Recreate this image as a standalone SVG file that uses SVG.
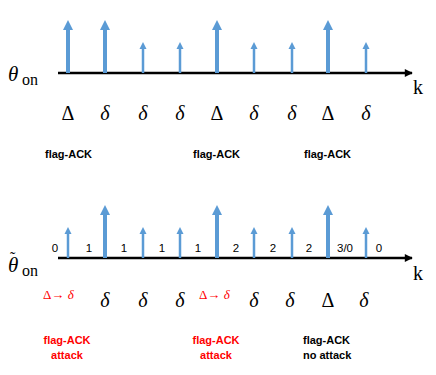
<svg xmlns="http://www.w3.org/2000/svg" width="436" height="375" viewBox="0 0 436 375">
<style>
.ax{stroke:#000;stroke-width:2.5;fill:none}
.big{stroke:#5B9BD5;stroke-width:4}
.sm{stroke:#5B9BD5;stroke-width:2.5}
.hd{fill:#5B9BD5}
.gr{font-family:"Liberation Serif",serif;font-size:20px;fill:#000;text-anchor:middle}
.gi{font-style:italic}
.lab{font-family:"Liberation Sans",Arial,sans-serif;font-weight:bold;font-size:11px;fill:#000}
.num{font-family:"Liberation Sans",Arial,sans-serif;font-size:11.5px;fill:#000;text-anchor:middle}
.ser{font-family:"Liberation Serif",serif;fill:#000}
.red{fill:#FF0000}
</style>
<defs>
<marker id="axh" viewBox="0 0 10 10" refX="9" refY="5" markerWidth="4" markerHeight="3.2" orient="auto" markerUnits="strokeWidth"><path d="M0,0 L10,5 L0,10 z" fill="#000"/></marker>
<path id="tallA" d="M-5,10 L0,0 L5,10 z"/>
<path id="shortA" d="M-3.5,7 L0,0 L3.5,7 z"/>
</defs>
<g id="connectors">
<line class="ax" x1="58" y1="73" x2="412" y2="73" marker-end="url(#axh)"/>
<line class="ax" x1="58" y1="258" x2="412" y2="258" marker-end="url(#axh)"/>
</g>
<g id="top-arrows">
<line class="big" x1="68" y1="73" x2="68" y2="29"/><use href="#tallA" class="hd" x="68" y="20"/>
<line class="big" x1="105" y1="73" x2="105" y2="29"/><use href="#tallA" class="hd" x="105" y="20"/>
<line class="sm" x1="143" y1="73" x2="143" y2="48"/><use href="#shortA" class="hd" x="143" y="42"/>
<line class="sm" x1="180" y1="73" x2="180" y2="48"/><use href="#shortA" class="hd" x="180" y="42"/>
<line class="big" x1="217" y1="73" x2="217" y2="29"/><use href="#tallA" class="hd" x="217" y="20"/>
<line class="sm" x1="254" y1="73" x2="254" y2="48"/><use href="#shortA" class="hd" x="254" y="42"/>
<line class="sm" x1="292" y1="73" x2="292" y2="48"/><use href="#shortA" class="hd" x="292" y="42"/>
<line class="big" x1="328" y1="73" x2="328" y2="29"/><use href="#tallA" class="hd" x="328" y="20"/>
<line class="sm" x1="366" y1="73" x2="366" y2="48"/><use href="#shortA" class="hd" x="366" y="42"/>
</g>
<g id="top-axis-labels">
<text class="ser" x="8" y="81" font-size="21" font-style="italic">θ</text>
<text class="ser" x="22" y="85" font-size="16">on</text>
<text class="ser" x="413" y="94" font-size="20">k</text>
</g>
<g id="top-values">
<text class="gr" x="68" y="120">Δ</text>
<text class="gr gi" x="105" y="120">δ</text>
<text class="gr gi" x="143" y="120">δ</text>
<text class="gr gi" x="180" y="120">δ</text>
<text class="gr" x="217" y="120">Δ</text>
<text class="gr gi" x="254" y="120">δ</text>
<text class="gr gi" x="292" y="120">δ</text>
<text class="gr" x="328" y="120">Δ</text>
<text class="gr gi" x="366" y="120">δ</text>
</g>
<g id="top-flags">
<text class="lab" x="45" y="158">flag-ACK</text>
<text class="lab" x="193" y="158">flag-ACK</text>
<text class="lab" x="304" y="158">flag-ACK</text>
</g>
<g id="bottom-arrows">
<line class="sm" x1="68" y1="258" x2="68" y2="233"/><use href="#shortA" class="hd" x="68" y="227"/>
<line class="big" x1="105" y1="258" x2="105" y2="214"/><use href="#tallA" class="hd" x="105" y="205"/>
<line class="sm" x1="143" y1="258" x2="143" y2="233"/><use href="#shortA" class="hd" x="143" y="227"/>
<line class="sm" x1="180" y1="258" x2="180" y2="233"/><use href="#shortA" class="hd" x="180" y="227"/>
<line class="big" x1="217" y1="258" x2="217" y2="214"/><use href="#tallA" class="hd" x="217" y="205"/>
<line class="sm" x1="254" y1="258" x2="254" y2="233"/><use href="#shortA" class="hd" x="254" y="227"/>
<line class="sm" x1="292" y1="258" x2="292" y2="233"/><use href="#shortA" class="hd" x="292" y="227"/>
<line class="big" x1="328" y1="258" x2="328" y2="214"/><use href="#tallA" class="hd" x="328" y="205"/>
<line class="sm" x1="366" y1="258" x2="366" y2="233"/><use href="#shortA" class="hd" x="366" y="227"/>
</g>
<g id="bottom-counts">
<text class="num" x="55" y="252">0</text>
<text class="num" x="89" y="252">1</text>
<text class="num" x="124" y="252">1</text>
<text class="num" x="162" y="252">1</text>
<text class="num" x="198" y="252">1</text>
<text class="num" x="236" y="252">2</text>
<text class="num" x="273" y="252">2</text>
<text class="num" x="309" y="252">2</text>
<text class="num" x="345" y="252">3/0</text>
<text class="num" x="379" y="252">0</text>
</g>
<g id="bottom-axis-labels">
<text class="ser" x="8" y="272" font-size="21" font-style="italic">θ</text>
<text class="ser" x="10" y="263" font-size="16">˜</text>
<text class="ser" x="22" y="276" font-size="16">on</text>
<text class="ser" x="413" y="280" font-size="20">k</text>
</g>
<g id="bottom-values">
<text class="ser red" x="43" y="299" font-size="13">Δ→ <tspan font-style="italic">δ</tspan></text>
<text class="gr gi" x="105" y="307">δ</text>
<text class="gr gi" x="143" y="307">δ</text>
<text class="gr gi" x="180" y="307">δ</text>
<text class="ser red" x="199" y="299" font-size="13">Δ→ <tspan font-style="italic">δ</tspan></text>
<text class="gr gi" x="254" y="307">δ</text>
<text class="gr gi" x="290" y="307">δ</text>
<text class="gr" x="328" y="307">Δ</text>
<text class="gr gi" x="364" y="307">δ</text>
</g>
<g id="bottom-flags">
<text class="lab red" x="67" y="344" text-anchor="middle">flag-ACK</text>
<text class="lab red" x="67" y="359" text-anchor="middle">attack</text>
<text class="lab red" x="216" y="344" text-anchor="middle">flag-ACK</text>
<text class="lab red" x="216" y="359" text-anchor="middle">attack</text>
<text class="lab" x="303" y="344">flag-ACK</text>
<text class="lab" x="303" y="359">no attack</text>
</g>
</svg>
